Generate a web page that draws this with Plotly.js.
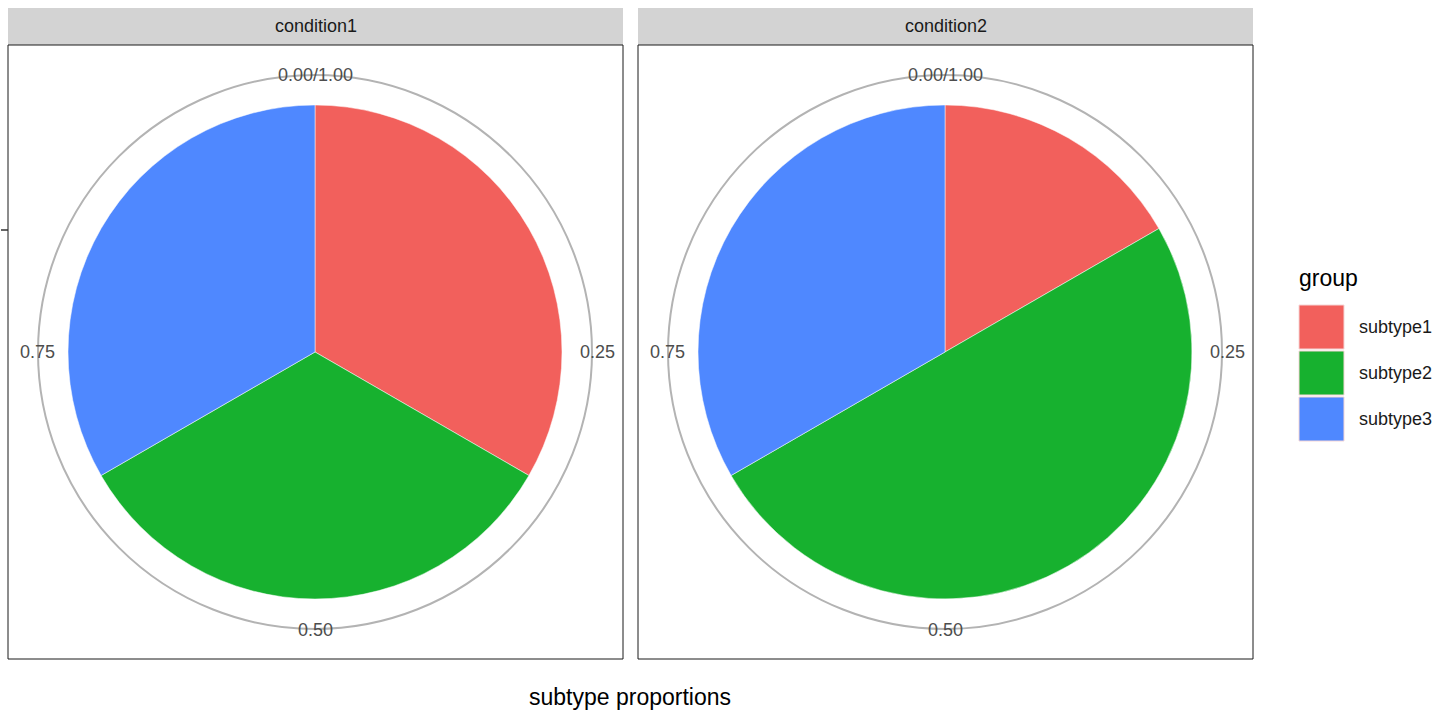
<!DOCTYPE html>
<html>
<head>
<script src="https://cdn.plot.ly/plotly-3.0.1.min.js"></script>
<style>body{margin:0}#plot{width:1452px;height:714px}</style>
</head>
<body>
<div id="plot"></div>
<script>
// data
const groups = ["subtype1", "subtype2", "subtype3"];
const conditions = ["condition1", "condition2"];
const cond1 = [1/3, 1/3, 1/3];
const cond2 = [1/6, 1/2, 1/3];
const colors = ["#F2605C", "#17B12F", "#4F88FF"];
const tickLabels = ["0.00/1.00", "0.25", "0.50", "0.75"];

const W = 1452, H = 714;
const px = x => x / W;
const py = y => 1 - y / H;

const centers = [315, 945];
const cy = 352, r = 247, rOuter = 277;
const values = [cond1, cond2];

const data = values.map((v, i) => ({
  type: "pie",
  labels: groups,
  values: v,
  sort: false,
  direction: "clockwise",
  rotation: 0,
  textinfo: "none",
  hoverinfo: "label+percent",
  marker: {colors: colors, line: {color: "white", width: 0.5}},
  domain: {x: [px(centers[i] - r), px(centers[i] + r)], y: [py(cy + r), py(cy - r)]},
  showlegend: false
}));

const shapes = [], annotations = [];
function label(x, y, text, size, color, xanchor) {
  annotations.push({xref: "paper", yref: "paper", x: px(x), y: py(y), text: text, showarrow: false,
    xanchor: xanchor || "center", yanchor: "middle", font: {size: size, color: color}});
}
const panels = [[8, 623], [638, 1253]];
panels.forEach((p, i) => {
  shapes.push({type: "rect", xref: "paper", yref: "paper", x0: px(p[0]), x1: px(p[1]), y0: py(45), y1: py(8),
    fillcolor: "#d3d3d3", line: {width: 0}, layer: "below"});
  shapes.push({type: "rect", xref: "paper", yref: "paper", x0: px(p[0]), x1: px(p[1]), y0: py(659), y1: py(45),
    line: {color: "#1a1a1a", width: 1}});
  label((p[0] + p[1]) / 2, 26, conditions[i], 18, "#1a1a1a");
  const c = centers[i];
  shapes.push({type: "circle", xref: "paper", yref: "paper", x0: px(c - rOuter), x1: px(c + rOuter),
    y0: py(cy + rOuter), y1: py(cy - rOuter), line: {color: "#b3b3b3", width: 2}, layer: "below"});
  const pos = [[c, 75], [c + 282, cy], [c, 630], [c - 278, cy]];
  tickLabels.forEach((t, k) => label(pos[k][0], pos[k][1], t, 18, "#4d4d4d"));
});
// left axis tick
shapes.push({type: "line", xref: "paper", yref: "paper", x0: px(1), x1: px(8), y0: py(230), y1: py(230),
  line: {color: "#333", width: 1.5}});

// legend drawn manually
label(1297, 278, "group", 23, "#000", "left");
groups.forEach((g, k) => {
  const y0 = 305 + k * 46;
  shapes.push({type: "rect", xref: "paper", yref: "paper", x0: px(1299), x1: px(1344), y0: py(y0 + 44), y1: py(y0),
    fillcolor: colors[k], line: {color: "#f5d6d6", width: 1}});
  label(1357, y0 + 22, g, 18, "#1a1a1a", "left");
});

label(630, 697, "subtype proportions", 23, "#000");

const layout = {
  width: W, height: H,
  margin: {l: 0, r: 0, t: 0, b: 0},
  paper_bgcolor: "white",
  font: {family: "Liberation Sans, Arial, sans-serif"},
  shapes: shapes,
  annotations: annotations,
  showlegend: false
};

Plotly.newPlot("plot", data, layout, {displayModeBar: false});
</script>
</body>
</html>
